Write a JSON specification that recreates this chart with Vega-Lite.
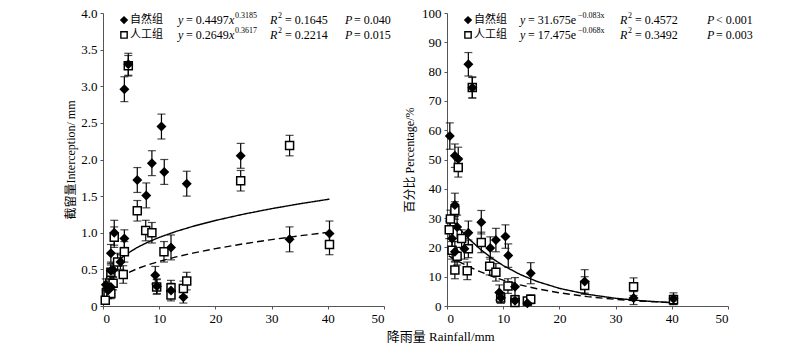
{
  "$schema": "https://vega.github.io/schema/vega-lite/v6.json",
  "padding": {"left": 64, "top": 7, "right": 5, "bottom": 5},
  "bounds": "flush",
  "spacing": 63,
  "title": {"text": "降雨量 Rainfall/mm", "orient": "bottom", "anchor": "middle", "font": "Liberation Serif, Noto Sans CJK SC", "fontSize": 13, "fontWeight": "normal", "color": "black", "offset": 6, "dx": 32},
  "config": {
    "view": {"stroke": null},
    "axis": {"domainColor": "#555", "tickColor": "#555", "labelColor": "black", "labelFont": "Liberation Serif", "labelFontSize": 13, "titleFont": "Liberation Serif, Noto Sans CJK SC", "titleFontSize": 12, "titleFontWeight": "normal", "titleColor": "black", "grid": false, "tickSize": 3, "labelPadding": 3},
    "text": {"font": "Liberation Serif", "fontSize": 12, "color": "black"}
  },
  "datasets": {
    "pts": [
      {"g": "自然组", "r": 0.5, "i": 0.29, "il": 0.21, "ih": 0.37, "p": 58, "pl": 53.5, "ph": 62.5},
      {"g": "自然组", "r": 1.4, "i": 0.72, "il": 0.6, "ih": 0.84, "p": 51.3, "pl": 47.3, "ph": 55.3},
      {"g": "自然组", "r": 2.0, "i": 1.0, "il": 0.83, "ih": 1.17, "p": 50.2, "pl": 46.2, "ph": 54.2},
      {"g": "自然组", "r": 1.4, "i": 0.48, "il": 0.38, "ih": 0.58, "p": 34.5, "pl": 30.5, "ph": 38.5},
      {"g": "自然组", "r": 1.8, "i": 0.49, "il": 0.39, "ih": 0.59, "p": 27, "pl": 23, "ph": 31},
      {"g": "自然组", "r": 0.9, "i": 0.21, "il": 0.13, "ih": 0.29, "p": 23, "pl": 19, "ph": 27},
      {"g": "自然组", "r": 1.4, "i": 0.26, "il": 0.18, "ih": 0.34, "p": 18.5, "pl": 15, "ph": 22},
      {"g": "自然组", "r": 3.8, "i": 2.96, "il": 2.79, "ih": 3.13, "p": 82.5, "pl": 78.5, "ph": 86.5},
      {"g": "自然组", "r": 4.5, "i": 3.3, "il": 3.15, "ih": 3.45, "p": 74.5, "pl": 71, "ph": 78},
      {"g": "自然组", "r": 3.8, "i": 0.92, "il": 0.8, "ih": 1.04, "p": 25, "pl": 21, "ph": 29},
      {"g": "自然组", "r": 3.1, "i": 0.6, "il": 0.5, "ih": 0.7, "p": 19.5, "pl": 16, "ph": 23},
      {"g": "自然组", "r": 6.1, "i": 1.72, "il": 1.55, "ih": 1.89, "p": 28.6, "pl": 24.6, "ph": 32.6},
      {"g": "自然组", "r": 7.7, "i": 1.51, "il": 1.34, "ih": 1.68, "p": 19.8, "pl": 16, "ph": 23.6},
      {"g": "自然组", "r": 8.7, "i": 1.95, "il": 1.78, "ih": 2.12, "p": 22.5, "pl": 18.5, "ph": 26.5},
      {"g": "自然组", "r": 10.4, "i": 2.45, "il": 2.28, "ih": 2.62, "p": 23.7, "pl": 19.7, "ph": 27.7},
      {"g": "自然组", "r": 10.9, "i": 1.83, "il": 1.66, "ih": 2.0, "p": 17.2, "pl": 13.2, "ph": 21.2},
      {"g": "自然组", "r": 12.1, "i": 0.8, "il": 0.63, "ih": 0.97, "p": 6.6, "pl": 3.5, "ph": 9.7},
      {"g": "自然组", "r": 9.3, "i": 0.42, "il": 0.3, "ih": 0.54, "p": 4.6, "pl": 2, "ph": 7.2},
      {"g": "自然组", "r": 9.6, "i": 0.27, "il": 0.17, "ih": 0.37, "p": 2.8, "pl": 1, "ph": 4.6},
      {"g": "自然组", "r": 12.1, "i": 0.21, "il": 0.11, "ih": 0.31, "p": 1.8, "pl": 0.5, "ph": 3.1},
      {"g": "自然组", "r": 14.3, "i": 0.12, "il": 0.04, "ih": 0.2, "p": 0.9, "pl": 0.2, "ph": 1.6},
      {"g": "自然组", "r": 14.9, "i": 1.67, "il": 1.5, "ih": 1.84, "p": 11.2, "pl": 7.6, "ph": 14.8},
      {"g": "自然组", "r": 24.5, "i": 2.05, "il": 1.88, "ih": 2.22, "p": 8.4, "pl": 4.4, "ph": 12.4},
      {"g": "自然组", "r": 33.2, "i": 0.91, "il": 0.74, "ih": 1.08, "p": 2.7, "pl": 0.5, "ph": 4.9},
      {"g": "自然组", "r": 40.3, "i": 0.99, "il": 0.82, "ih": 1.16, "p": 2.5, "pl": 0.5, "ph": 4.5},
      {"g": "人工组", "r": 4.5, "i": 3.28, "il": 3.14, "ih": 3.42, "p": 74.6, "pl": 71, "ph": 78.2},
      {"g": "人工组", "r": 2.0, "i": 0.94, "il": 0.8, "ih": 1.08, "p": 47.3, "pl": 44, "ph": 50.6},
      {"g": "人工组", "r": 1.4, "i": 0.46, "il": 0.36, "ih": 0.56, "p": 32.6, "pl": 29.6, "ph": 35.6},
      {"g": "人工组", "r": 0.6, "i": 0.18, "il": 0.11, "ih": 0.25, "p": 29.7, "pl": 26.7, "ph": 32.7},
      {"g": "人工组", "r": 0.9, "i": 0.17, "il": 0.1, "ih": 0.24, "p": 19, "pl": 16, "ph": 22},
      {"g": "人工组", "r": 1.8, "i": 0.31, "il": 0.22, "ih": 0.4, "p": 17, "pl": 14, "ph": 20},
      {"g": "人工组", "r": 1.4, "i": 0.17, "il": 0.1, "ih": 0.24, "p": 12.3, "pl": 9.3, "ph": 15.3},
      {"g": "人工组", "r": 3.8, "i": 0.74, "il": 0.6, "ih": 0.88, "p": 19.5, "pl": 16.5, "ph": 22.5},
      {"g": "人工组", "r": 3.6, "i": 0.43, "il": 0.31, "ih": 0.55, "p": 12, "pl": 9, "ph": 15},
      {"g": "人工组", "r": 2.6, "i": 0.6, "il": 0.48, "ih": 0.72, "p": 23, "pl": 20, "ph": 26},
      {"g": "人工组", "r": 6.1, "i": 1.3, "il": 1.16, "ih": 1.44, "p": 21.7, "pl": 18.2, "ph": 25.2},
      {"g": "人工组", "r": 7.6, "i": 1.03, "il": 0.89, "ih": 1.17, "p": 13.6, "pl": 10.6, "ph": 16.6},
      {"g": "人工组", "r": 8.7, "i": 1.0, "il": 0.86, "ih": 1.14, "p": 11.5, "pl": 8.5, "ph": 14.5},
      {"g": "人工组", "r": 10.85, "i": 0.74, "il": 0.6, "ih": 0.88, "p": 6.8, "pl": 4.3, "ph": 9.3},
      {"g": "人工组", "r": 9.55, "i": 0.26, "il": 0.16, "ih": 0.36, "p": 2.7, "pl": 1, "ph": 4.4},
      {"g": "人工组", "r": 12.1, "i": 0.25, "il": 0.15, "ih": 0.35, "p": 2.1, "pl": 0.6, "ph": 3.6},
      {"g": "人工组", "r": 12.1, "i": 0.15, "il": 0.07, "ih": 0.23, "p": 1.2, "pl": 0.3, "ph": 2.1},
      {"g": "人工组", "r": 14.3, "i": 0.24, "il": 0.14, "ih": 0.34, "p": 1.7, "pl": 0.5, "ph": 2.9},
      {"g": "人工组", "r": 14.9, "i": 0.34, "il": 0.22, "ih": 0.46, "p": 2.3, "pl": 0.8, "ph": 3.8},
      {"g": "人工组", "r": 24.5, "i": 1.71, "il": 1.57, "ih": 1.85, "p": 7.0, "pl": 4, "ph": 10},
      {"g": "人工组", "r": 33.2, "i": 2.19, "il": 2.05, "ih": 2.33, "p": 6.6, "pl": 3.6, "ph": 9.6},
      {"g": "人工组", "r": 40.3, "i": 0.84, "il": 0.7, "ih": 0.98, "p": 2.1, "pl": 0.5, "ph": 3.7},
      {"g": "人工组", "r": 0.4, "i": 0.08, "il": 0.03, "ih": 0.13, "p": 26, "pl": 23, "ph": 29}
    ],
    "fitL": [
      {"g": "自然组", "r": 0.3, "v": 0.3065}, {"g": "自然组", "r": 0.5, "v": 0.3606}, {"g": "自然组", "r": 1, "v": 0.4497}, {"g": "自然组", "r": 2, "v": 0.5608}, {"g": "自然组", "r": 3, "v": 0.6381}, {"g": "自然组", "r": 4, "v": 0.6993}, {"g": "自然组", "r": 6, "v": 0.7957}, {"g": "自然组", "r": 8, "v": 0.8721}, {"g": "自然组", "r": 10, "v": 0.9364}, {"g": "自然组", "r": 13, "v": 1.018}, {"g": "自然组", "r": 16, "v": 1.0875}, {"g": "自然组", "r": 20, "v": 1.1677}, {"g": "自然组", "r": 25, "v": 1.2537}, {"g": "自然组", "r": 30, "v": 1.3288}, {"g": "自然组", "r": 35, "v": 1.3955}, {"g": "自然组", "r": 40.3, "v": 1.459},
      {"g": "人工组", "r": 0.3, "v": 0.1714}, {"g": "人工组", "r": 0.5, "v": 0.2062}, {"g": "人工组", "r": 1, "v": 0.2649}, {"g": "人工组", "r": 2, "v": 0.3404}, {"g": "人工组", "r": 3, "v": 0.3942}, {"g": "人工组", "r": 4, "v": 0.4373}, {"g": "人工组", "r": 6, "v": 0.5065}, {"g": "人工组", "r": 8, "v": 0.562}, {"g": "人工组", "r": 10, "v": 0.6093}, {"g": "人工组", "r": 13, "v": 0.6699}, {"g": "人工组", "r": 16, "v": 0.7222}, {"g": "人工组", "r": 20, "v": 0.7829}, {"g": "人工组", "r": 25, "v": 0.8486}, {"g": "人工组", "r": 30, "v": 0.9065}, {"g": "人工组", "r": 35, "v": 0.9585}, {"g": "人工组", "r": 40.3, "v": 1.008}
    ],
    "fitR": [
      {"g": "自然组", "r": 0.3, "v": 30.89}, {"g": "自然组", "r": 2, "v": 26.83}, {"g": "自然组", "r": 4, "v": 22.73}, {"g": "自然组", "r": 6, "v": 19.25}, {"g": "自然组", "r": 8, "v": 16.31}, {"g": "自然组", "r": 10, "v": 13.81}, {"g": "自然组", "r": 13, "v": 10.77}, {"g": "自然组", "r": 16, "v": 8.39}, {"g": "自然组", "r": 20, "v": 6.02}, {"g": "自然组", "r": 25, "v": 3.98}, {"g": "自然组", "r": 30, "v": 2.63}, {"g": "自然组", "r": 35, "v": 1.73}, {"g": "自然组", "r": 40.3, "v": 1.117},
      {"g": "人工组", "r": 0.3, "v": 17.12}, {"g": "人工组", "r": 2, "v": 15.25}, {"g": "人工组", "r": 4, "v": 13.31}, {"g": "人工组", "r": 6, "v": 11.62}, {"g": "人工组", "r": 8, "v": 10.14}, {"g": "人工组", "r": 10, "v": 8.85}, {"g": "人工组", "r": 13, "v": 7.22}, {"g": "人工组", "r": 16, "v": 5.89}, {"g": "人工组", "r": 20, "v": 4.49}, {"g": "人工组", "r": 25, "v": 3.19}, {"g": "人工组", "r": 30, "v": 2.27}, {"g": "人工组", "r": 35, "v": 1.62}, {"g": "人工组", "r": 40.3, "v": 1.128}
    ],
    "legL": [
      {"k": "sym", "g": "自然组", "lx": 3.74, "ly": 3.904, "t": ""},
      {"k": "sym", "g": "人工组", "lx": 3.74, "ly": 3.70, "t": ""},
      {"k": "cjk", "lx": 4.8, "ly": 3.904, "t": "自然组"},
      {"k": "cjk", "lx": 4.8, "ly": 3.70, "t": "人工组"},
      {"k": "it", "lx": 13.35, "ly": 3.904, "t": "y"},
      {"k": "reg", "lx": 14.77, "ly": 3.904, "t": "= 0.4497"},
      {"k": "it", "lx": 22.42, "ly": 3.904, "t": "x"},
      {"k": "sup", "lx": 23.49, "ly": 3.904, "t": "0.3185"},
      {"k": "it", "lx": 29.72, "ly": 3.904, "t": "R"},
      {"k": "sup", "lx": 31.14, "ly": 3.904, "t": "2"},
      {"k": "reg", "lx": 32.38, "ly": 3.904, "t": "= 0.1645"},
      {"k": "it", "lx": 43.06, "ly": 3.904, "t": "P"},
      {"k": "reg", "lx": 44.66, "ly": 3.904, "t": "= 0.040"},
      {"k": "it", "lx": 13.35, "ly": 3.70, "t": "y"},
      {"k": "reg", "lx": 14.77, "ly": 3.70, "t": "= 0.2649"},
      {"k": "it", "lx": 22.42, "ly": 3.70, "t": "x"},
      {"k": "sup", "lx": 23.49, "ly": 3.70, "t": "0.3617"},
      {"k": "it", "lx": 29.72, "ly": 3.70, "t": "R"},
      {"k": "sup", "lx": 31.14, "ly": 3.70, "t": "2"},
      {"k": "reg", "lx": 32.38, "ly": 3.70, "t": "= 0.2214"},
      {"k": "it", "lx": 43.06, "ly": 3.70, "t": "P"},
      {"k": "reg", "lx": 44.66, "ly": 3.70, "t": "= 0.015"}
    ],
    "legR": [
      {"k": "sym", "g": "自然组", "lx": 3.74, "ly": 97.6, "t": ""},
      {"k": "sym", "g": "人工组", "lx": 3.74, "ly": 92.5, "t": ""},
      {"k": "cjk", "lx": 4.8, "ly": 97.6, "t": "自然组"},
      {"k": "cjk", "lx": 4.8, "ly": 92.5, "t": "人工组"},
      {"k": "it", "lx": 12.99, "ly": 97.6, "t": "y"},
      {"k": "reg", "lx": 14.41, "ly": 97.6, "t": "= 31.675e"},
      {"k": "sup", "lx": 23.31, "ly": 97.6, "t": "−0.083x"},
      {"k": "it", "lx": 30.78, "ly": 97.6, "t": "R"},
      {"k": "sup", "lx": 32.21, "ly": 97.6, "t": "2"},
      {"k": "reg", "lx": 33.45, "ly": 97.6, "t": "= 0.4572"},
      {"k": "it", "lx": 46.26, "ly": 97.6, "t": "P"},
      {"k": "reg", "lx": 47.86, "ly": 97.6, "t": "< 0.001"},
      {"k": "it", "lx": 12.99, "ly": 92.5, "t": "y"},
      {"k": "reg", "lx": 14.41, "ly": 92.5, "t": "= 17.475e"},
      {"k": "sup", "lx": 23.31, "ly": 92.5, "t": "−0.068x"},
      {"k": "it", "lx": 30.78, "ly": 92.5, "t": "R"},
      {"k": "sup", "lx": 32.21, "ly": 92.5, "t": "2"},
      {"k": "reg", "lx": 33.45, "ly": 92.5, "t": "= 0.3492"},
      {"k": "it", "lx": 46.26, "ly": 92.5, "t": "P"},
      {"k": "reg", "lx": 47.86, "ly": 92.5, "t": "= 0.003"}
    ]
  },
  "hconcat": [
    {
      "width": 281,
      "height": 293,
      "layer": [
        {
          "data": {"name": "fitL"},
          "mark": {"type": "line", "color": "black", "strokeWidth": 1.4},
          "encoding": {
            "x": {"field": "r", "type": "quantitative", "scale": {"domain": [0, 50]}, "axis": {"values": [0, 10, 20, 30, 40, 50], "title": null}},
            "y": {"field": "v", "type": "quantitative", "scale": {"domain": [0, 4]}, "axis": {"values": [0, 0.5, 1, 1.5, 2, 2.5, 3, 3.5, 4], "labelExpr": "datum.value == 0 ? '0' : format(datum.value, '.1f')", "title": "截留量Interception/ mm", "titlePadding": 3}},
            "strokeDash": {"field": "g", "type": "nominal", "scale": {"domain": ["自然组", "人工组"], "range": [[1, 0], [7, 4]]}, "legend": null}
          }
        },
        {
          "data": {"name": "pts"},
          "mark": {"type": "rule", "color": "black", "strokeWidth": 1.2},
          "encoding": {
            "x": {"field": "r", "type": "quantitative", "scale": {"domain": [0, 50]}, "axis": {"values": [0, 10, 20, 30, 40, 50], "title": null}},
            "y": {"field": "il", "type": "quantitative", "scale": {"domain": [0, 4]}, "axis": {"values": [0, 0.5, 1, 1.5, 2, 2.5, 3, 3.5, 4], "labelExpr": "datum.value == 0 ? '0' : format(datum.value, '.1f')", "title": "截留量Interception/ mm", "titlePadding": 3}},
            "y2": {"field": "ih"}
          }
        },
        {
          "data": {"name": "pts"},
          "mark": {"type": "tick", "orient": "horizontal", "color": "black", "size": 8, "thickness": 1.2},
          "encoding": {
            "x": {"field": "r", "type": "quantitative", "scale": {"domain": [0, 50]}, "axis": {"values": [0, 10, 20, 30, 40, 50], "title": null}},
            "y": {"field": "il", "type": "quantitative", "scale": {"domain": [0, 4]}, "axis": {"values": [0, 0.5, 1, 1.5, 2, 2.5, 3, 3.5, 4], "labelExpr": "datum.value == 0 ? '0' : format(datum.value, '.1f')", "title": "截留量Interception/ mm", "titlePadding": 3}}
          }
        },
        {
          "data": {"name": "pts"},
          "mark": {"type": "tick", "orient": "horizontal", "color": "black", "size": 8, "thickness": 1.2},
          "encoding": {
            "x": {"field": "r", "type": "quantitative", "scale": {"domain": [0, 50]}, "axis": {"values": [0, 10, 20, 30, 40, 50], "title": null}},
            "y": {"field": "ih", "type": "quantitative", "scale": {"domain": [0, 4]}, "axis": {"values": [0, 0.5, 1, 1.5, 2, 2.5, 3, 3.5, 4], "labelExpr": "datum.value == 0 ? '0' : format(datum.value, '.1f')", "title": "截留量Interception/ mm", "titlePadding": 3}}
          }
        },
        {
          "data": {"name": "pts"},
          "transform": [{"filter": "datum.g == '人工组'"}],
          "mark": {"type": "point", "shape": "square", "filled": true, "fill": "white", "stroke": "black", "strokeWidth": 1.5, "size": 64, "opacity": 1},
          "encoding": {
            "x": {"field": "r", "type": "quantitative", "scale": {"domain": [0, 50]}, "axis": {"values": [0, 10, 20, 30, 40, 50], "title": null}},
            "y": {"field": "i", "type": "quantitative", "scale": {"domain": [0, 4]}, "axis": {"values": [0, 0.5, 1, 1.5, 2, 2.5, 3, 3.5, 4], "labelExpr": "datum.value == 0 ? '0' : format(datum.value, '.1f')", "title": "截留量Interception/ mm", "titlePadding": 3}}
          }
        },
        {
          "data": {"name": "pts"},
          "transform": [{"filter": "datum.g == '自然组'"}],
          "mark": {"type": "point", "shape": "diamond", "filled": true, "color": "black", "size": 100, "opacity": 1},
          "encoding": {
            "x": {"field": "r", "type": "quantitative", "scale": {"domain": [0, 50]}, "axis": {"values": [0, 10, 20, 30, 40, 50], "title": null}},
            "y": {"field": "i", "type": "quantitative", "scale": {"domain": [0, 4]}, "axis": {"values": [0, 0.5, 1, 1.5, 2, 2.5, 3, 3.5, 4], "labelExpr": "datum.value == 0 ? '0' : format(datum.value, '.1f')", "title": "截留量Interception/ mm", "titlePadding": 3}}
          }
        },
        {
          "data": {"name": "legL"},
          "transform": [{"filter": "datum.k == 'sym'"}],
          "mark": {"type": "point", "filled": true, "strokeWidth": 1.4, "opacity": 1},
          "encoding": {
            "x": {"field": "lx", "type": "quantitative", "scale": {"domain": [0, 50]}, "axis": {"values": [0, 10, 20, 30, 40, 50], "title": null}},
            "y": {"field": "ly", "type": "quantitative", "scale": {"domain": [0, 4]}, "axis": {"values": [0, 0.5, 1, 1.5, 2, 2.5, 3, 3.5, 4], "labelExpr": "datum.value == 0 ? '0' : format(datum.value, '.1f')", "title": "截留量Interception/ mm", "titlePadding": 3}},
            "shape": {"field": "g", "type": "nominal", "scale": {"domain": ["自然组", "人工组"], "range": ["diamond", "square"]}, "legend": null},
            "fill": {"field": "g", "type": "nominal", "scale": {"domain": ["自然组", "人工组"], "range": ["black", "white"]}, "legend": null},
            "stroke": {"value": "black"},
            "size": {"value": 40}
          }
        },
        {
          "data": {"name": "legL"},
          "transform": [{"filter": "datum.k == 'cjk'"}],
          "mark": {"type": "text", "align": "left", "baseline": "middle", "font": "Noto Sans CJK SC", "fontSize": 11},
          "encoding": {
            "x": {"field": "lx", "type": "quantitative", "scale": {"domain": [0, 50]}, "axis": {"values": [0, 10, 20, 30, 40, 50], "title": null}},
            "y": {"field": "ly", "type": "quantitative", "scale": {"domain": [0, 4]}, "axis": {"values": [0, 0.5, 1, 1.5, 2, 2.5, 3, 3.5, 4], "labelExpr": "datum.value == 0 ? '0' : format(datum.value, '.1f')", "title": "截留量Interception/ mm", "titlePadding": 3}},
            "text": {"field": "t"}
          }
        },
        {
          "data": {"name": "legL"},
          "transform": [{"filter": "datum.k == 'it'"}],
          "mark": {"type": "text", "align": "left", "baseline": "middle", "font": "Liberation Serif", "fontStyle": "italic", "fontSize": 12},
          "encoding": {
            "x": {"field": "lx", "type": "quantitative", "scale": {"domain": [0, 50]}, "axis": {"values": [0, 10, 20, 30, 40, 50], "title": null}},
            "y": {"field": "ly", "type": "quantitative", "scale": {"domain": [0, 4]}, "axis": {"values": [0, 0.5, 1, 1.5, 2, 2.5, 3, 3.5, 4], "labelExpr": "datum.value == 0 ? '0' : format(datum.value, '.1f')", "title": "截留量Interception/ mm", "titlePadding": 3}},
            "text": {"field": "t"}
          }
        },
        {
          "data": {"name": "legL"},
          "transform": [{"filter": "datum.k == 'reg'"}],
          "mark": {"type": "text", "align": "left", "baseline": "middle", "font": "Liberation Serif", "fontSize": 12},
          "encoding": {
            "x": {"field": "lx", "type": "quantitative", "scale": {"domain": [0, 50]}, "axis": {"values": [0, 10, 20, 30, 40, 50], "title": null}},
            "y": {"field": "ly", "type": "quantitative", "scale": {"domain": [0, 4]}, "axis": {"values": [0, 0.5, 1, 1.5, 2, 2.5, 3, 3.5, 4], "labelExpr": "datum.value == 0 ? '0' : format(datum.value, '.1f')", "title": "截留量Interception/ mm", "titlePadding": 3}},
            "text": {"field": "t"}
          }
        },
        {
          "data": {"name": "legL"},
          "transform": [{"filter": "datum.k == 'sup'"}],
          "mark": {"type": "text", "align": "left", "baseline": "middle", "font": "Liberation Serif", "fontSize": 8, "dy": -4},
          "encoding": {
            "x": {"field": "lx", "type": "quantitative", "scale": {"domain": [0, 50]}, "axis": {"values": [0, 10, 20, 30, 40, 50], "title": null}},
            "y": {"field": "ly", "type": "quantitative", "scale": {"domain": [0, 4]}, "axis": {"values": [0, 0.5, 1, 1.5, 2, 2.5, 3, 3.5, 4], "labelExpr": "datum.value == 0 ? '0' : format(datum.value, '.1f')", "title": "截留量Interception/ mm", "titlePadding": 3}},
            "text": {"field": "t"}
          }
        }
      ]
    },
    {
      "width": 281,
      "height": 293,
      "layer": [
        {
          "data": {"name": "fitR"},
          "mark": {"type": "line", "color": "black", "strokeWidth": 1.4},
          "encoding": {
            "x": {"field": "r", "type": "quantitative", "scale": {"domain": [0, 50]}, "axis": {"values": [0, 10, 20, 30, 40, 50], "title": null}},
            "y": {"field": "v", "type": "quantitative", "scale": {"domain": [0, 100]}, "axis": {"values": [0, 10, 20, 30, 40, 50, 60, 70, 80, 90, 100], "title": "百分比 Percentage/%", "titlePadding": 5}},
            "strokeDash": {"field": "g", "type": "nominal", "scale": {"domain": ["自然组", "人工组"], "range": [[1, 0], [7, 4]]}, "legend": null}
          }
        },
        {
          "data": {"name": "pts"},
          "mark": {"type": "rule", "color": "black", "strokeWidth": 1.2},
          "encoding": {
            "x": {"field": "r", "type": "quantitative", "scale": {"domain": [0, 50]}, "axis": {"values": [0, 10, 20, 30, 40, 50], "title": null}},
            "y": {"field": "pl", "type": "quantitative", "scale": {"domain": [0, 100]}, "axis": {"values": [0, 10, 20, 30, 40, 50, 60, 70, 80, 90, 100], "title": "百分比 Percentage/%", "titlePadding": 5}},
            "y2": {"field": "ph"}
          }
        },
        {
          "data": {"name": "pts"},
          "mark": {"type": "tick", "orient": "horizontal", "color": "black", "size": 8, "thickness": 1.2},
          "encoding": {
            "x": {"field": "r", "type": "quantitative", "scale": {"domain": [0, 50]}, "axis": {"values": [0, 10, 20, 30, 40, 50], "title": null}},
            "y": {"field": "pl", "type": "quantitative", "scale": {"domain": [0, 100]}, "axis": {"values": [0, 10, 20, 30, 40, 50, 60, 70, 80, 90, 100], "title": "百分比 Percentage/%", "titlePadding": 5}}
          }
        },
        {
          "data": {"name": "pts"},
          "mark": {"type": "tick", "orient": "horizontal", "color": "black", "size": 8, "thickness": 1.2},
          "encoding": {
            "x": {"field": "r", "type": "quantitative", "scale": {"domain": [0, 50]}, "axis": {"values": [0, 10, 20, 30, 40, 50], "title": null}},
            "y": {"field": "ph", "type": "quantitative", "scale": {"domain": [0, 100]}, "axis": {"values": [0, 10, 20, 30, 40, 50, 60, 70, 80, 90, 100], "title": "百分比 Percentage/%", "titlePadding": 5}}
          }
        },
        {
          "data": {"name": "pts"},
          "transform": [{"filter": "datum.g == '人工组'"}],
          "mark": {"type": "point", "shape": "square", "filled": true, "fill": "white", "stroke": "black", "strokeWidth": 1.5, "size": 64, "opacity": 1},
          "encoding": {
            "x": {"field": "r", "type": "quantitative", "scale": {"domain": [0, 50]}, "axis": {"values": [0, 10, 20, 30, 40, 50], "title": null}},
            "y": {"field": "p", "type": "quantitative", "scale": {"domain": [0, 100]}, "axis": {"values": [0, 10, 20, 30, 40, 50, 60, 70, 80, 90, 100], "title": "百分比 Percentage/%", "titlePadding": 5}}
          }
        },
        {
          "data": {"name": "pts"},
          "transform": [{"filter": "datum.g == '自然组'"}],
          "mark": {"type": "point", "shape": "diamond", "filled": true, "color": "black", "size": 100, "opacity": 1},
          "encoding": {
            "x": {"field": "r", "type": "quantitative", "scale": {"domain": [0, 50]}, "axis": {"values": [0, 10, 20, 30, 40, 50], "title": null}},
            "y": {"field": "p", "type": "quantitative", "scale": {"domain": [0, 100]}, "axis": {"values": [0, 10, 20, 30, 40, 50, 60, 70, 80, 90, 100], "title": "百分比 Percentage/%", "titlePadding": 5}}
          }
        },
        {
          "data": {"name": "legR"},
          "transform": [{"filter": "datum.k == 'sym'"}],
          "mark": {"type": "point", "filled": true, "strokeWidth": 1.4, "opacity": 1},
          "encoding": {
            "x": {"field": "lx", "type": "quantitative", "scale": {"domain": [0, 50]}, "axis": {"values": [0, 10, 20, 30, 40, 50], "title": null}},
            "y": {"field": "ly", "type": "quantitative", "scale": {"domain": [0, 100]}, "axis": {"values": [0, 10, 20, 30, 40, 50, 60, 70, 80, 90, 100], "title": "百分比 Percentage/%", "titlePadding": 5}},
            "shape": {"field": "g", "type": "nominal", "scale": {"domain": ["自然组", "人工组"], "range": ["diamond", "square"]}, "legend": null},
            "fill": {"field": "g", "type": "nominal", "scale": {"domain": ["自然组", "人工组"], "range": ["black", "white"]}, "legend": null},
            "stroke": {"value": "black"},
            "size": {"value": 40}
          }
        },
        {
          "data": {"name": "legR"},
          "transform": [{"filter": "datum.k == 'cjk'"}],
          "mark": {"type": "text", "align": "left", "baseline": "middle", "font": "Noto Sans CJK SC", "fontSize": 11},
          "encoding": {
            "x": {"field": "lx", "type": "quantitative", "scale": {"domain": [0, 50]}, "axis": {"values": [0, 10, 20, 30, 40, 50], "title": null}},
            "y": {"field": "ly", "type": "quantitative", "scale": {"domain": [0, 100]}, "axis": {"values": [0, 10, 20, 30, 40, 50, 60, 70, 80, 90, 100], "title": "百分比 Percentage/%", "titlePadding": 5}},
            "text": {"field": "t"}
          }
        },
        {
          "data": {"name": "legR"},
          "transform": [{"filter": "datum.k == 'it'"}],
          "mark": {"type": "text", "align": "left", "baseline": "middle", "font": "Liberation Serif", "fontStyle": "italic", "fontSize": 12},
          "encoding": {
            "x": {"field": "lx", "type": "quantitative", "scale": {"domain": [0, 50]}, "axis": {"values": [0, 10, 20, 30, 40, 50], "title": null}},
            "y": {"field": "ly", "type": "quantitative", "scale": {"domain": [0, 100]}, "axis": {"values": [0, 10, 20, 30, 40, 50, 60, 70, 80, 90, 100], "title": "百分比 Percentage/%", "titlePadding": 5}},
            "text": {"field": "t"}
          }
        },
        {
          "data": {"name": "legR"},
          "transform": [{"filter": "datum.k == 'reg'"}],
          "mark": {"type": "text", "align": "left", "baseline": "middle", "font": "Liberation Serif", "fontSize": 12},
          "encoding": {
            "x": {"field": "lx", "type": "quantitative", "scale": {"domain": [0, 50]}, "axis": {"values": [0, 10, 20, 30, 40, 50], "title": null}},
            "y": {"field": "ly", "type": "quantitative", "scale": {"domain": [0, 100]}, "axis": {"values": [0, 10, 20, 30, 40, 50, 60, 70, 80, 90, 100], "title": "百分比 Percentage/%", "titlePadding": 5}},
            "text": {"field": "t"}
          }
        },
        {
          "data": {"name": "legR"},
          "transform": [{"filter": "datum.k == 'sup'"}],
          "mark": {"type": "text", "align": "left", "baseline": "middle", "font": "Liberation Serif", "fontSize": 8, "dy": -4},
          "encoding": {
            "x": {"field": "lx", "type": "quantitative", "scale": {"domain": [0, 50]}, "axis": {"values": [0, 10, 20, 30, 40, 50], "title": null}},
            "y": {"field": "ly", "type": "quantitative", "scale": {"domain": [0, 100]}, "axis": {"values": [0, 10, 20, 30, 40, 50, 60, 70, 80, 90, 100], "title": "百分比 Percentage/%", "titlePadding": 5}},
            "text": {"field": "t"}
          }
        }
      ]
    }
  ]
}
